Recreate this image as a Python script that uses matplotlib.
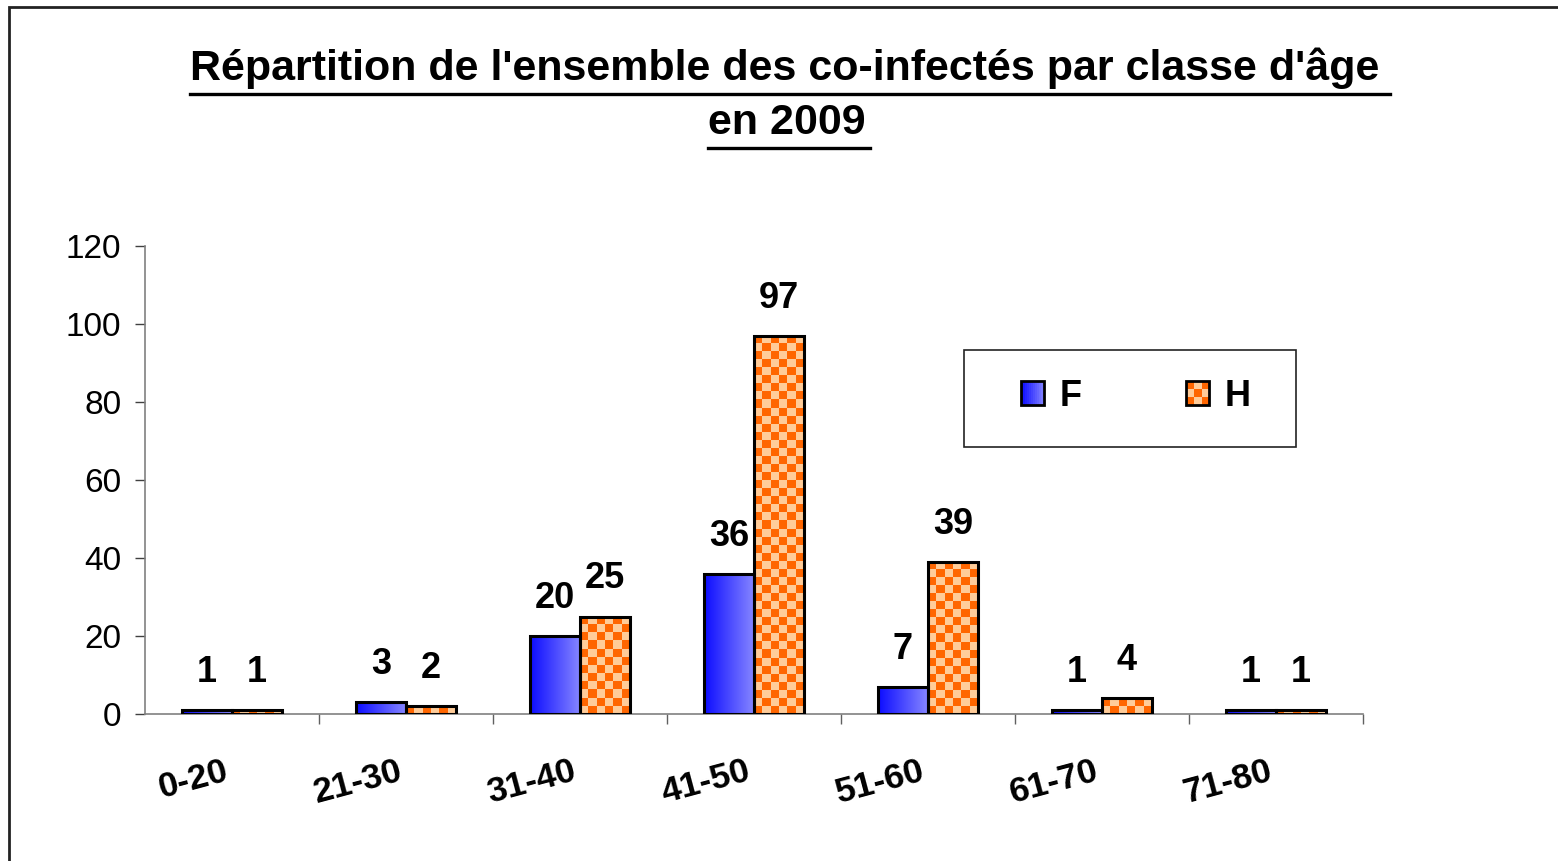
import matplotlib
matplotlib.use("Agg")

import matplotlib.pyplot as plt
from matplotlib.patches import Rectangle, Patch
from matplotlib.legend_handler import HandlerBase
import numpy as np

# data
age_classes = ["0-20", "21-30", "31-40", "41-50", "51-60", "61-70", "71-80"]
femmes = [1, 3, 20, 36, 7, 1, 1]
hommes = [1, 2, 25, 97, 39, 4, 1]
series_names = ["F", "H"]

ORANGE = "#FF6600"
PEACH = "#FFCC99"
BLUE_L = (0.05, 0.05, 1.0)
BLUE_R = (0.52, 0.52, 1.0)

W, H = 1558, 861
DPI = 100
plt.rcParams['font.family'] = ['Liberation Sans', 'DejaVu Sans']

fig = plt.figure(figsize=(W / DPI, H / DPI), dpi=DPI)

def fx(px):
    return px / W

def fy(py):
    return 1 - py / H

# outer frame of the chart area
fig.patches.append(Rectangle((fx(8.5), fy(H + 10)), fx(W + 10), (H + 10 - 7.5) / H,
                             transform=fig.transFigure, fill=False,
                             edgecolor="#222222", linewidth=2))

ax = fig.add_axes([fx(145), fy(714), fx(1363) - fx(145), fy(246) - fy(714)])

x = np.arange(len(age_classes))
bw = 0.287
bars_f = ax.bar(x - bw / 2, femmes, bw, facecolor="none", edgecolor="black",
                linewidth=2.2, zorder=3)
bars_h = ax.bar(x + bw / 2, hommes, bw, facecolor="none", edgecolor="black",
                linewidth=2.2, zorder=3)

ax.set_xlim(-0.5, len(age_classes) - 0.5)
ax.set_ylim(0, 120)

px_per_unit = (714 - 246) / 120.0
cell = 8.0

# gradient fill for F
grad = np.linspace(0, 1, 64)
grad_img = np.zeros((1, 64, 3))
for k in range(3):
    grad_img[0, :, k] = BLUE_L[k] + (BLUE_R[k] - BLUE_L[k]) * grad
for rect in bars_f:
    x0 = rect.get_x()
    h = rect.get_height()
    im = ax.imshow(grad_img, extent=(x0, x0 + rect.get_width(), 0, h),
                   aspect="auto", zorder=2, interpolation="bilinear")
    im.set_clip_path(rect)

# checkerboard fill for H
c1 = np.array(matplotlib.colors.to_rgb(ORANGE))
c2 = np.array(matplotlib.colors.to_rgb(PEACH))
for rect in bars_h:
    x0 = rect.get_x()
    h = rect.get_height()
    ncol = 6
    nrow = max(1, int(round(h * px_per_unit / cell)))
    ii, jj = np.meshgrid(np.arange(ncol), np.arange(nrow))
    mask = ((ii + jj) % 2 == 0)
    img = np.where(mask[..., None], c1, c2)
    im = ax.imshow(img, extent=(x0, x0 + rect.get_width(), 0, h),
                   aspect="auto", zorder=2, interpolation="nearest")
    im.set_clip_path(rect)

ax.set_xlim(-0.5, len(age_classes) - 0.5)
ax.set_ylim(0, 120)

# value labels
for rects, vals in ((bars_f, femmes), (bars_h, hommes)):
    for rect, v in zip(rects, vals):
        ax.annotate(str(v), (rect.get_x() + rect.get_width() / 2, v),
                    xytext=(0, 27), textcoords="offset points",
                    ha="center", va="center", fontsize=26, fontweight="bold")

# axes styling
for s in ("top", "right"):
    ax.spines[s].set_visible(False)
for s in ("left", "bottom"):
    ax.spines[s].set_color("#808080")
    ax.spines[s].set_linewidth(1.2)

ax.set_yticks(np.arange(0, 121, 20))
ax.tick_params(axis="y", length=7, width=1, color="#404040", labelsize=24, pad=10)

ax.set_xticks(x - 0.05)
ax.set_xticklabels(age_classes, fontsize=25.5, fontweight="bold")
ax.tick_params(axis="x", which="major", length=0, pad=29)
plt.setp(ax.get_xticklabels(), rotation=15, ha="right", rotation_mode="anchor")
ax.set_xticks(np.arange(0.5, len(age_classes) + 0.5, 1), minor=True)
ax.tick_params(axis="x", which="minor", length=7, width=1, color="#606060")

# title with underline
renderer = fig.canvas.get_renderer()
t1 = fig.text(fx(785), fy(80), "Répartition de l'ensemble des co-infectés par classe d'âge",
              ha="center", va="baseline", fontsize=31, fontweight="bold")
t2 = fig.text(fx(787), fy(134), "en 2009",
              ha="center", va="baseline", fontsize=31, fontweight="bold")
for t, base, extra in ((t1, 80, 10), (t2, 134, 4)):
    bb = t.get_window_extent(renderer)
    fig.add_artist(plt.Line2D([bb.x0 / W, (bb.x1 + extra) / W], [fy(base + 14), fy(base + 14)],
                              transform=fig.transFigure, color="black", linewidth=2.4))

# legend
class SwatchHandler(HandlerBase):
    def create_artists(self, legend, orig_handle, xdescent, ydescent,
                       width, height, fontsize, trans):
        out = []
        x0, y0 = -xdescent, -ydescent
        if orig_handle.get_label() == "H":
            n = 3
            for i in range(n):
                for j in range(n):
                    col = ORANGE if (i + j) % 2 == 0 else PEACH
                    out.append(Rectangle((x0 + i * width / n, y0 + j * height / n),
                                         width / n, height / n, facecolor=col,
                                         edgecolor="none", transform=trans))
        else:
            n = 12
            for i in range(n):
                f = i / (n - 1)
                col = tuple(BLUE_L[k] + (BLUE_R[k] - BLUE_L[k]) * f for k in range(3))
                out.append(Rectangle((x0 + i * width / n, y0), width / n + 0.01, height,
                                     facecolor=col, edgecolor="none", transform=trans))
        out.append(Rectangle((x0, y0), width, height, fill=False, edgecolor="black",
                             linewidth=2, transform=trans))
        return out

handles = [Patch(label=series_names[0]), Patch(label=series_names[1])]
fig.patches.append(Rectangle((fx(963.5), fy(447)), fx(1296) - fx(963.5), fy(350) - fy(447),
                             transform=fig.transFigure, fill=False,
                             edgecolor="#222222", linewidth=1.2))
leg = fig.legend(handles=handles, loc="center", bbox_to_anchor=(fx(1136), fy(396)),
                 ncol=2, frameon=False, prop={"size": 26, "weight": "bold"},
                 handlelength=0.64, handleheight=0.64, handletextpad=0.42,
                 columnspacing=2.9, borderpad=0,
                 handler_map={Patch: SwatchHandler()})

fig.savefig("out.png", dpi=DPI)
